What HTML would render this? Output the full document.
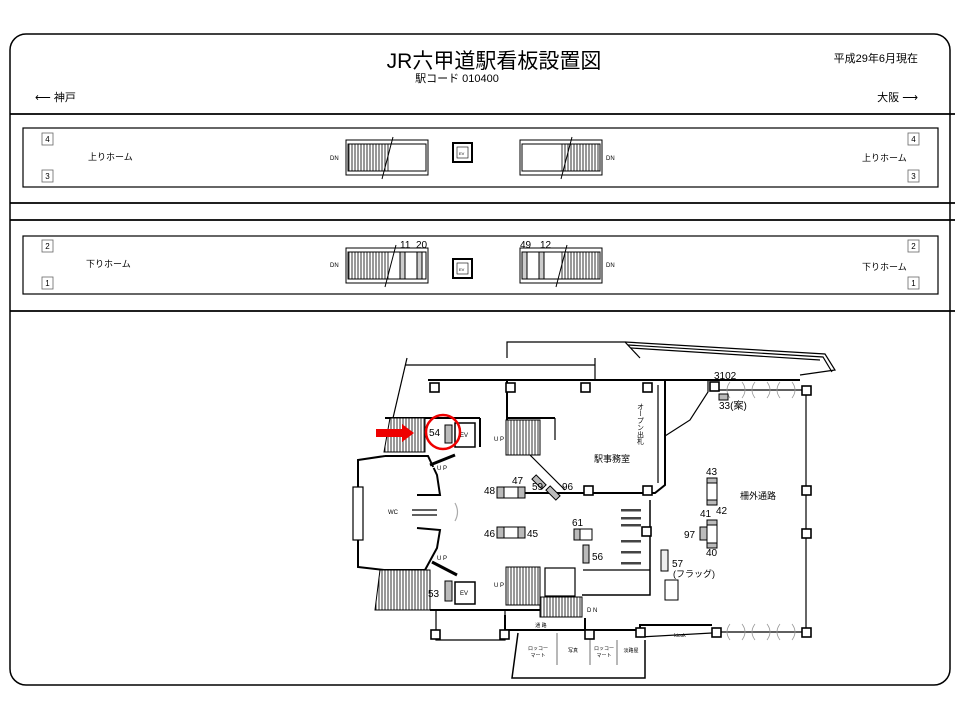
<!DOCTYPE html>
<html><head><meta charset="utf-8"><style>
body{margin:0;background:#fff;width:960px;height:720px;overflow:hidden}
svg{display:block}
text{font-family:"Liberation Sans","Noto Sans CJK JP",sans-serif;fill:#000}
</style></head><body>
<svg width="960" height="720" viewBox="0 0 960 720" xmlns="http://www.w3.org/2000/svg">
<defs>
<pattern id="h" width="3" height="10" patternUnits="userSpaceOnUse"><rect width="3" height="10" fill="#fff"/><line x1="1" y1="0" x2="1" y2="10" stroke="#333" stroke-width="1"/></pattern>
</defs>
<rect x="10" y="34" width="940" height="651" rx="16" fill="none" stroke="#000" stroke-width="1.5"/>
<text x="494" y="68" font-size="21" text-anchor="middle">JR六甲道駅看板設置図</text>
<text x="457" y="82" font-size="11" text-anchor="middle">駅コード 010400</text>
<text x="918" y="62" font-size="11" text-anchor="end">平成29年6月現在</text>
<text x="35" y="101" font-size="11">⟵ 神戸</text>
<text x="918" y="101" font-size="11" text-anchor="end">大阪 ⟶</text>
<g stroke="#000" stroke-width="1.8">
<line x1="10" y1="114" x2="955" y2="114"/><line x1="10" y1="203" x2="955" y2="203"/>
<line x1="10" y1="220" x2="955" y2="220"/><line x1="10" y1="311" x2="955" y2="311"/>
</g>
<g fill="none" stroke="#000" stroke-width="1.2">
<rect x="23" y="128" width="915" height="59"/><rect x="23" y="236" width="915" height="58"/>
</g>
<g font-size="9" text-anchor="middle" fill="none" stroke="#666" stroke-width="0.8">
<rect x="42" y="133" width="11" height="12"/><rect x="42" y="170" width="11" height="12"/>
<rect x="908" y="133" width="11" height="12"/><rect x="908" y="170" width="11" height="12"/>
<rect x="42" y="240" width="11" height="12"/><rect x="42" y="277" width="11" height="12"/>
<rect x="908" y="240" width="11" height="12"/><rect x="908" y="277" width="11" height="12"/>
</g>
<g font-size="8" text-anchor="middle">
<text x="47.5" y="142">4</text><text x="47.5" y="179">3</text><text x="913.5" y="142">4</text><text x="913.5" y="179">3</text>
<text x="47.5" y="249">2</text><text x="47.5" y="286">1</text><text x="913.5" y="249">2</text><text x="913.5" y="286">1</text>
</g>
<g font-size="9">
<text x="88" y="160">上りホーム</text><text x="862" y="161">上りホーム</text>
<text x="86" y="267">下りホーム</text><text x="862" y="270">下りホーム</text>
</g>
<g font-size="6"><text x="330" y="160">DN</text><text x="606" y="160">DN</text><text x="330" y="267">DN</text><text x="606" y="267">DN</text></g>
<!-- upper stairs -->
<g stroke="#000" stroke-width="1">
<rect x="346" y="140" width="82" height="35" fill="#fff"/><rect x="348" y="144" width="42" height="27" fill="url(#h)" stroke="none"/>
<rect x="348" y="144" width="78" height="27" fill="none"/>
<line x1="393" y1="137" x2="382" y2="179"/>
<rect x="520" y="140" width="82" height="35" fill="#fff"/><rect x="560" y="144" width="40" height="27" fill="url(#h)" stroke="none"/>
<rect x="522" y="144" width="78" height="27" fill="none"/>
<line x1="572" y1="137" x2="561" y2="179"/>
<rect x="453" y="143" width="19" height="19" fill="#fff" stroke-width="2"/><rect x="457" y="147" width="11" height="11" fill="none" stroke-width="0.6"/>
<!-- lower -->
<rect x="346" y="248" width="82" height="35" fill="#fff"/><rect x="348" y="252" width="42" height="27" fill="url(#h)" stroke="none"/>
<rect x="348" y="252" width="78" height="27" fill="none"/>
<line x1="396" y1="245" x2="385" y2="287"/>
<rect x="400" y="252" width="5" height="27" fill="#ccc"/><rect x="417" y="252" width="5" height="27" fill="#ccc"/>
<rect x="520" y="248" width="82" height="35" fill="#fff"/><rect x="560" y="252" width="40" height="27" fill="url(#h)" stroke="none"/>
<rect x="522" y="252" width="78" height="27" fill="none"/>
<line x1="567" y1="245" x2="556" y2="287"/>
<rect x="522" y="252" width="5" height="27" fill="#ccc"/><rect x="539" y="252" width="5" height="27" fill="#ccc"/>
<rect x="453" y="259" width="19" height="19" fill="#fff" stroke-width="2"/><rect x="457" y="263" width="11" height="11" fill="none" stroke-width="0.6"/>
</g>
<g font-size="10"><text x="400" y="248">11</text><text x="416" y="248">20</text><text x="520" y="248">49</text><text x="540" y="248">12</text></g>
<g font-size="4"><text x="459" y="155">EV</text><text x="459" y="271">EV</text></g>

<!-- floor plan -->
<g fill="none" stroke="#000" stroke-width="1.2">
<polyline points="507,358 507,342 625,342 640,358"/>
<polyline points="625,342 825,354 835,370 800,375"/>
<polyline points="628,345 823,357 832,372"/>
<polyline points="631,348 820,360"/>
<line x1="405" y1="365" x2="595" y2="365"/><line x1="595" y1="358" x2="595" y2="380"/>
<line x1="407" y1="358" x2="393" y2="418"/>
<line x1="428" y1="380" x2="800" y2="380" stroke-width="2"/>
<line x1="507" y1="380" x2="507" y2="420" stroke-width="2"/>
<polyline points="665,380 665,485 655,493 507,493" stroke-width="2"/>
<line x1="658" y1="385" x2="658" y2="483"/>
<polyline points="665,380 708,380 708,392 690,420 665,436"/>
<!-- WC -->
<polyline points="385,456 358,460 358,567 384,570 425,570 437,548 440,530 417,528" stroke-width="2"/>
<polyline points="385,456 428,456 437,475 440,495 417,495" stroke-width="2"/>
<rect x="353" y="487" width="10" height="53" fill="#fff"/>
<line x1="412" y1="510" x2="437" y2="510"/><line x1="412" y1="515" x2="437" y2="515"/>
<path d="M455,503 Q460,512 455,521" stroke="#aaa"/>
<!-- walls -->
<line x1="385" y1="418" x2="480" y2="418" stroke-width="2"/>
<line x1="480" y1="418" x2="480" y2="447" stroke-width="2"/>
<line x1="507" y1="418" x2="555" y2="418" stroke-width="2"/>
<line x1="530" y1="455" x2="565" y2="490"/>
<line x1="555" y1="418" x2="555" y2="440"/>
<line x1="430" y1="610" x2="582" y2="610" stroke-width="2"/>
<polyline points="436,610 436,640 505,640 505,610"/>
<polyline points="505,615 505,630 585,630 585,618" stroke-width="2"/>
<polyline points="585,630 640,630 640,625 712,625" stroke-width="2"/>
<line x1="640" y1="637" x2="712" y2="633"/>
<polyline points="518,633 512,678 645,678 645,640" stroke-width="1.5"/>
<line x1="557" y1="633" x2="557" y2="665" stroke="#888"/>
<line x1="590" y1="633" x2="590" y2="665" stroke="#888"/>
<line x1="617" y1="640" x2="617" y2="665" stroke="#888"/>
<line x1="583" y1="570" x2="650" y2="570"/>
<polyline points="650,500 650,595 582,595" stroke-width="1.5"/>
<rect x="545" y="568" width="30" height="28"/>
<!-- right boundary -->
<line x1="806" y1="390" x2="806" y2="632"/>
<line x1="712" y1="390" x2="806" y2="390"/>
<line x1="712" y1="632" x2="806" y2="632"/>
</g>
<!-- arcs -->
<g fill="none" stroke="#999" stroke-width="0.8">
<path d="M730,382 q-6,8 0,16 M742,382 q6,8 0,16 M755,382 q-6,8 0,16 M767,382 q6,8 0,16 M780,382 q-6,8 0,16 M792,382 q6,8 0,16"/>
<path d="M730,624 q-6,8 0,16 M742,624 q6,8 0,16 M755,624 q-6,8 0,16 M767,624 q6,8 0,16 M780,624 q-6,8 0,16 M792,624 q6,8 0,16"/>
</g>
<!-- columns -->
<g fill="#fff" stroke="#000" stroke-width="1.6">
<rect x="430" y="383" width="9" height="9"/><rect x="506" y="383" width="9" height="9"/><rect x="581" y="383" width="9" height="9"/>
<rect x="643" y="383" width="9" height="9"/><rect x="584" y="486" width="9" height="9"/><rect x="643" y="486" width="9" height="9"/>
<rect x="642" y="527" width="9" height="9"/><rect x="802" y="386" width="9" height="9"/><rect x="802" y="486" width="9" height="9"/>
<rect x="802" y="529" width="9" height="9"/><rect x="802" y="628" width="9" height="9"/><rect x="712" y="628" width="9" height="9"/>
<rect x="636" y="628" width="9" height="9"/><rect x="585" y="630" width="9" height="9"/><rect x="431" y="630" width="9" height="9"/>
<rect x="500" y="630" width="9" height="9"/><rect x="710" y="382" width="9" height="9"/>
</g>
<!-- stairs -->
<g stroke="#000">
<polygon points="390,418 425,418 425,452 384,452" fill="url(#h)"/>
<polygon points="380,570 430,570 430,610 375,610" fill="url(#h)"/>
<rect x="506" y="420" width="34" height="35" fill="url(#h)"/>
<rect x="506" y="567" width="34" height="38" fill="url(#h)"/>
<rect x="540" y="597" width="42" height="20" fill="url(#h)"/>
<line x1="430" y1="465" x2="455" y2="455" stroke-width="3"/><line x1="432" y1="468" x2="457" y2="458" stroke="#fff"/>
<line x1="432" y1="562" x2="457" y2="575" stroke-width="3"/>
<rect x="455" y="423" width="20" height="24" fill="#fff" stroke-width="1.5"/>
<rect x="455" y="582" width="20" height="22" fill="#fff" stroke-width="1.5"/>
</g>
<g font-size="6"><text x="460" y="437">EV</text><text x="460" y="595">EV</text>
<text x="494" y="441">U P</text><text x="437" y="470">U P</text><text x="494" y="587">U P</text><text x="437" y="560">U P</text><text x="587" y="612">D N</text>
<text x="388" y="514">WC</text></g>
<!-- signs -->
<g fill="#bbb" stroke="#000" stroke-width="1">
<rect x="445" y="425" width="7" height="18"/><rect x="445" y="581" width="7" height="20"/>
<rect x="497" y="487" width="7" height="11"/><rect x="518" y="487" width="7" height="11"/><rect x="504" y="487" width="14" height="11" fill="#fff"/>
<rect x="497" y="527" width="7" height="11"/><rect x="518" y="527" width="7" height="11"/><rect x="504" y="527" width="14" height="11" fill="#fff"/>
<rect x="574" y="529" width="6" height="11"/><rect x="580" y="529" width="12" height="11" fill="#fff"/>
<rect x="583" y="545" width="6" height="18"/>
<rect x="536" y="475" width="6" height="14" transform="rotate(-45 539 482)"/>
<rect x="550" y="486" width="6" height="14" transform="rotate(-45 553 493)"/>
<rect x="661" y="550" width="7" height="21" fill="#eee"/><rect x="665" y="580" width="13" height="20" fill="#fff"/>
<rect x="707" y="478" width="10" height="27" fill="#fff"/><rect x="707" y="478" width="10" height="5"/><rect x="707" y="500" width="10" height="5"/>
<rect x="707" y="520" width="10" height="28" fill="#fff"/><rect x="707" y="520" width="10" height="5"/><rect x="707" y="543" width="10" height="5"/>
<rect x="700" y="527" width="7" height="13"/>
<rect x="719" y="394" width="9" height="6"/>
</g>
<g fill="#444"><rect x="621" y="509" width="20" height="2.5"/><rect x="621" y="517" width="20" height="2.5"/><rect x="621" y="524" width="20" height="2.5"/><rect x="621" y="540" width="20" height="2.5"/><rect x="621" y="551" width="20" height="2.5"/><rect x="621" y="562" width="20" height="2.5"/></g>
<g font-size="10">
<text x="429" y="436">54</text><text x="428" y="597">53</text><text x="484" y="494">48</text><text x="512" y="484">47</text>
<text x="484" y="537">46</text><text x="527" y="537">45</text><text x="532" y="490">59</text><text x="562" y="490">96</text>
<text x="572" y="526">61</text><text x="592" y="560">56</text><text x="672" y="567">57</text><text x="673" y="577" font-size="9">(フラッグ)</text>
<text x="706" y="475">43</text><text x="716" y="514">42</text><text x="700" y="517">41</text><text x="684" y="538">97</text><text x="706" y="556">40</text>
<text x="714" y="379">3102</text><text x="719" y="409">33(案)</text>
</g>
<g font-size="9"><text x="594" y="462">駅事務室</text><text x="740" y="499">柵外通路</text></g>
<text x="640" y="403" font-size="7" writing-mode="tb">オープン出札</text>
<g font-size="5" text-anchor="middle"><text x="541" y="627">通 路</text><text x="538" y="650">ロッコー</text><text x="538" y="657">マート</text>
<text x="573" y="652">写真</text><text x="604" y="650">ロッコー</text><text x="604" y="657">マート</text><text x="631" y="652">淡路屋</text><text x="680" y="637">kiosk</text></g>
<!-- red marker -->
<circle cx="443" cy="432" r="17" fill="none" stroke="#e00" stroke-width="2.5"/>
<polygon points="376,429 402,429 402,424 414,433 402,442 402,437 376,437" fill="#e00"/>
</svg>
</body></html>
